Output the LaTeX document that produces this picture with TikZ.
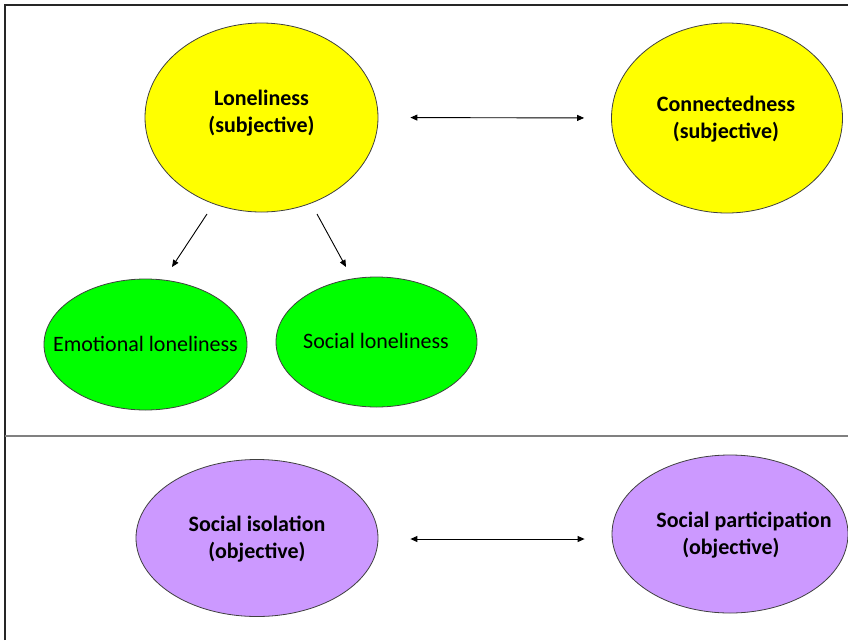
\documentclass[tikz,border=0pt]{standalone}
\usepackage{fontspec}
\setmainfont{Carlito}
\usetikzlibrary{shapes.geometric,arrows.meta}
\definecolor{lavender}{HTML}{CC99FF}
\definecolor{sun}{HTML}{FFFF00}
\definecolor{lime}{HTML}{00FF00}
\tikzset{
  blob/.style={ellipse, draw=black!75, line width=0.8pt, inner sep=0pt},
  plaintext/.style={align=center, font=\fontsize{22}{27}\selectfont},
  boldtext/.style={align=center, font=\fontsize{22}{27}\selectfont\bfseries},
  link/.style={line width=0.9pt, -{Triangle[length=7pt,width=6pt]}},
  duallink/.style={line width=0.9pt, {Triangle[length=7pt,width=6pt]}-{Triangle[length=7pt,width=6pt]}}
}
\begin{document}
\begin{tikzpicture}[x=1pt,y=-1pt]
\useasboundingbox (0,0) rectangle (848,640);
\fill[white] (0,0) rectangle (848,640);
% frame
\draw[line width=1.6pt, black!85] (5,640) -- (5,5) -- (848,5);
\draw[line width=1.3pt, black!50] (5,436) -- (848,436);
% nodes
\node[blob, fill=sun, minimum width=233pt, minimum height=189pt] (lon) at (261.5,117.5) {};
\node[boldtext] (lontxt) at (261.5,113) {Loneliness\\(subjective)};
\node[blob, fill=sun, minimum width=231pt, minimum height=190pt] (con) at (727,118) {};
\node[boldtext] (contxt) at (726,119) {Connectedness\\(subjective)};
\node[blob, fill=lime, minimum width=203pt, minimum height=131pt] (emo) at (145.5,344.5) {};
\node[plaintext] (emotxt) at (145.5,344) {Emotional loneliness};
\node[blob, fill=lime, minimum width=201pt, minimum height=130pt] (soc) at (376.5,342) {};
\node[plaintext] (soctxt) at (376,341) {Social loneliness};
\node[blob, fill=lavender, minimum width=242pt, minimum height=157pt] (iso) at (257,538) {};
\node[boldtext] (isotxt) at (257,539) {Social isolation\\(objective)};
\node[blob, fill=lavender, minimum width=236pt, minimum height=158pt] (par) at (730,534) {};
\node[boldtext] (partxt) at (744,535) {Social participation\\\hspace*{-26pt}(objective)};
% connectors
\coordinate (a1) at (207,214);
\coordinate (a2) at (172,267);
\coordinate (b1) at (317,214);
\coordinate (b2) at (346,267);
\draw[duallink, shorten <=32pt, shorten >=27pt] (lon.east) -- (con.west);
\draw[duallink, shorten <=32pt, shorten >=27pt] (iso.east |- 0,539) -- (par.west |- 0,539);
\draw[link] (a1) -- (a2);
\draw[link] (b1) -- (b2);
\end{tikzpicture}
\end{document}
